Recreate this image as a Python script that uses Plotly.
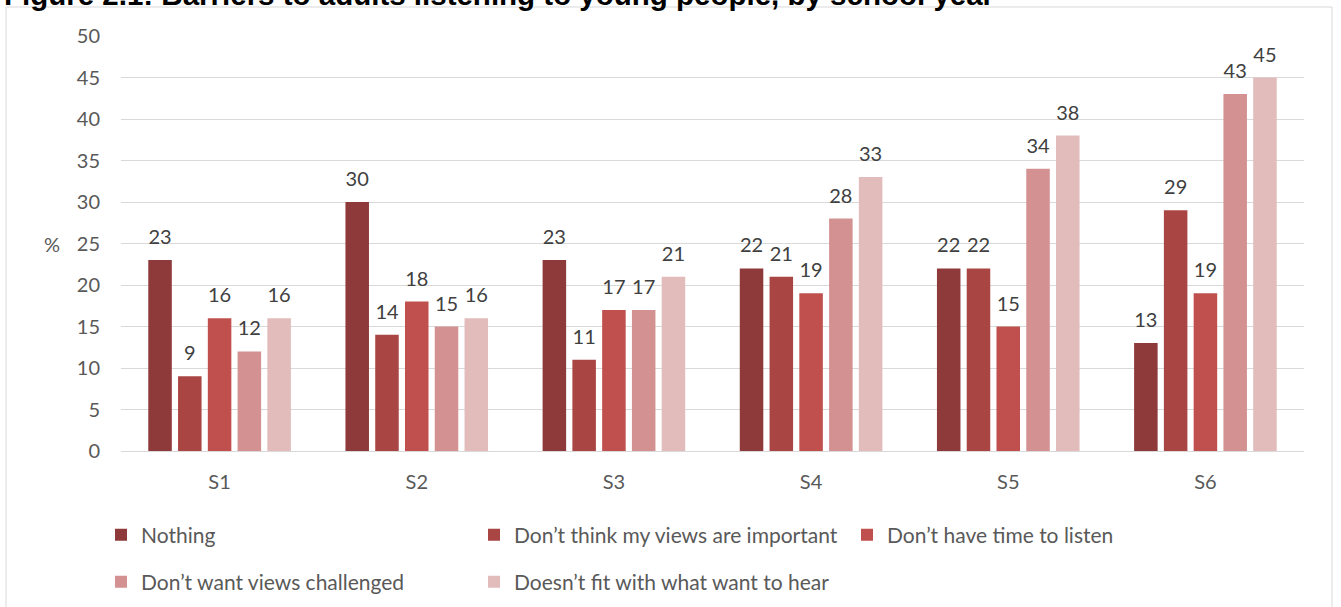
import plotly.graph_objects as go

# School years along the x axis
years = ["S1", "S2", "S3", "S4", "S5", "S6"]

# Percentage of pupils citing each barrier
nothing = [23, 30, 23, 22, 22, 13]
views_not_important = [9, 14, 11, 21, 22, 29]
no_time = [16, 18, 17, 19, 15, 19]
views_challenged = [12, 15, 17, 28, 34, 43]
not_what_they_want = [16, 16, 21, 33, 38, 45]

series_names = [
    "Nothing",
    "Don\u2019t think my views are important",
    "Don\u2019t have time to listen",
    "Don\u2019t want views challenged",
    "Doesn\u2019t fit with what want to hear",
]
series_values = [nothing, views_not_important, no_time, views_challenged, not_what_they_want]
series_colors = ["#8e3a3a", "#a94644", "#c0504d", "#d39291", "#e2bbbb"]
legend_rows = ["legend", "legend", "legend", "legend2", "legend2"]

FONT = "Lato"
TEXT_GREY = "#595959"
LABEL_GREY = "#404040"

fig = go.Figure()

for i, (name, vals, col, lg) in enumerate(zip(series_names, series_values, series_colors, legend_rows)):
    fig.add_trace(go.Bar(
        x=years, y=vals, name=name,
        marker=dict(color=col, line=dict(width=0)),
        offsetgroup=str(i), legend=lg,
        hoverinfo="skip",
    ))

# Value labels sit above each bar, using grouped scatter points aligned to the bars
for i, vals in enumerate(series_values):
    fig.add_trace(go.Scatter(
        x=years, y=vals, mode="markers+text",
        text=[str(v) for v in vals], textposition="top center",
        textfont=dict(family=FONT, size=20, color=LABEL_GREY),
        marker=dict(size=16, opacity=0),
        offsetgroup=str(i), showlegend=False, hoverinfo="skip",
        cliponaxis=False,
    ))

# Chart frame
fig.add_shape(type="rect", xref="paper", yref="paper",
              x0=-0.0972, x1=1.0237, y0=-0.45, y1=1.0699,
              line=dict(color="#d9d9d9", width=1), fillcolor="rgba(0,0,0,0)", layer="below")

# Figure caption, partly above the page edge
fig.add_annotation(
    text="<b>Figure 2.1: Barriers to adults listening to young people, by school year</b>",
    xref="paper", yref="paper", x=-0.1006, xanchor="left",
    y=1.1, yanchor="middle", showarrow=False,
    font=dict(family="Liberation Sans", size=29.5, color="#000000"),
)

# Y axis title
fig.add_annotation(
    text="%", xref="paper", yref="y", x=-0.058, y=25, xanchor="center", yanchor="middle",
    showarrow=False, font=dict(family=FONT, size=20, color=TEXT_GREY),
)

legend_common = dict(
    orientation="h", xanchor="left", yanchor="middle",
    entrywidth=328, entrywidthmode="pixels",
    font=dict(family=FONT, size=21, color=TEXT_GREY),
    bgcolor="rgba(0,0,0,0)", itemclick=False, itemdoubleclick=False,
)

fig.update_layout(
    width=1341, height=607,
    margin=dict(l=121, r=37, t=36, b=156, autoexpand=False),
    paper_bgcolor="white", plot_bgcolor="white",
    barmode="group", bargap=0.245, bargroupgap=0.21,
    scattermode="group", scattergap=0.245,
    font=dict(family=FONT, size=20, color=TEXT_GREY),
    legend=dict(x=-0.0169, y=-0.2024, **legend_common),
    legend2=dict(x=-0.0169, y=-0.3157, **legend_common),
    showlegend=True,
    xaxis=dict(
        showgrid=False, showline=False, zeroline=False, ticks="",
        ticklabelstandoff=17, tickfont=dict(family=FONT, size=20, color=TEXT_GREY),
        fixedrange=True,
    ),
    yaxis=dict(
        range=[0, 50], dtick=5, showgrid=True, gridcolor="#d9d9d9", gridwidth=1,
        zeroline=True, zerolinecolor="#d9d9d9", zerolinewidth=1,
        showline=False, ticks="", ticklabelstandoff=20,
        tickfont=dict(family=FONT, size=20, color=TEXT_GREY),
        fixedrange=True,
    ),
)

fig.write_html("out.html")
